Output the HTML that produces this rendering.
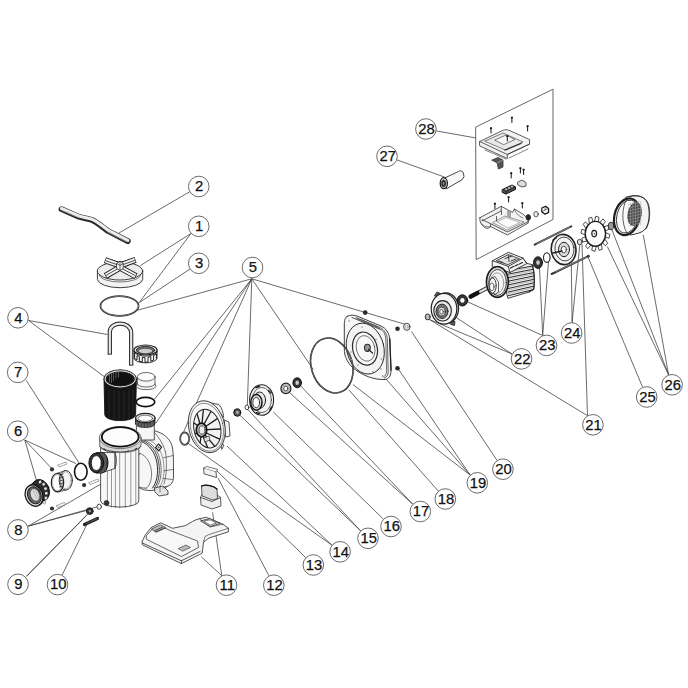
<!DOCTYPE html>
<html><head><meta charset="utf-8"><style>
html,body{margin:0;padding:0;background:#fff;}
svg{display:block;}
</style></head><body>
<svg width="688" height="688" viewBox="0 0 688 688">
<rect width="688" height="688" fill="#fff"/>
<g stroke="#3a3a3a" stroke-width="0.75" fill="none"><line x1="191.0" y1="233.5" x2="140.5" y2="265.5"/><line x1="191.0" y1="233.5" x2="138.5" y2="303.5"/><line x1="189.6" y1="191.8" x2="118.7" y2="233.2"/><line x1="189.9" y1="269.1" x2="139.4" y2="302.5"/><line x1="28.6" y1="320.5" x2="107.5" y2="334.5"/><line x1="28.6" y1="320.5" x2="104" y2="376.5"/><line x1="251.8" y1="278.8" x2="137.6" y2="310.2"/><line x1="251.8" y1="278.8" x2="154.6" y2="399"/><line x1="251.8" y1="278.8" x2="156" y2="423"/><line x1="251.8" y1="278.8" x2="183.2" y2="432.8"/><line x1="251.8" y1="278.8" x2="247.3" y2="405.5"/><line x1="251.8" y1="278.8" x2="313.2" y2="369.4"/><line x1="251.8" y1="278.8" x2="405.8" y2="324.5"/><line x1="24.8" y1="440.0" x2="36.3" y2="480"/><line x1="24.8" y1="440.0" x2="51.2" y2="468"/><line x1="24.8" y1="440.0" x2="75.9" y2="463.5"/><line x1="26.2" y1="380.3" x2="79" y2="463"/><line x1="28.3" y1="526.1" x2="104.9" y2="481.7"/><line x1="28.3" y1="526.1" x2="87.9" y2="510.1"/><line x1="28.3" y1="526.1" x2="99.2" y2="506.3"/><line x1="26.5" y1="576.3" x2="88.8" y2="512.9"/><line x1="26.5" y1="576.3" x2="86.5" y2="515.5"/><line x1="62.1" y1="575.1" x2="88" y2="522"/><line x1="221.8" y1="575.7" x2="201.3" y2="556.8"/><line x1="221.8" y1="575.7" x2="212.6" y2="512.4"/><line x1="268.9" y1="575.8" x2="218" y2="478"/><line x1="305.7" y1="557.6" x2="216" y2="470"/><line x1="331.9" y1="545.1" x2="187.8" y2="443.1"/><line x1="331.9" y1="545.1" x2="227" y2="446"/><line x1="360.6" y1="530.8" x2="237.8" y2="413.2"/><line x1="360.6" y1="530.8" x2="247" y2="408.7"/><line x1="383.4" y1="519.1" x2="273.2" y2="411.9"/><line x1="412.7" y1="504.1" x2="286.3" y2="389.6"/><line x1="412.7" y1="504.1" x2="298" y2="383.1"/><line x1="438.3" y1="491.1" x2="349" y2="390"/><line x1="470.1" y1="475.0" x2="352.9" y2="384.5"/><line x1="470.1" y1="475.0" x2="385" y2="377.9"/><line x1="470.1" y1="475.0" x2="397.3" y2="367.5"/><line x1="497.0" y1="460.4" x2="411.5" y2="331.6"/><line x1="587.5" y1="415.7" x2="429.6" y2="319.6"/><line x1="587.5" y1="415.7" x2="582" y2="244"/><line x1="512.1" y1="354.0" x2="429.6" y2="319.6"/><line x1="512.1" y1="354.0" x2="456.8" y2="318"/><line x1="542.7" y1="335.5" x2="468" y2="302"/><line x1="542.7" y1="335.5" x2="539.5" y2="268"/><line x1="542.7" y1="335.5" x2="548.5" y2="262"/><line x1="572.1" y1="322.4" x2="571.3" y2="264.2"/><line x1="572.1" y1="322.4" x2="580" y2="243"/><line x1="642.6" y1="387.2" x2="588" y2="257"/><line x1="668.6" y1="374.8" x2="607.3" y2="246.5"/><line x1="668.6" y1="374.8" x2="611.8" y2="229.5"/><line x1="668.6" y1="374.8" x2="643.3" y2="235"/><line x1="397.0" y1="159.9" x2="444.6" y2="177.1"/><line x1="436.3" y1="130.9" x2="476" y2="138"/></g>
<g stroke-linejoin="round" stroke-linecap="round">
<!-- ===== box outline (inset for 28) ===== -->
<path d="M476,127 L553,89.2 L553,219.5 L476.5,259.5 Z" fill="none" stroke="#555" stroke-width="0.9"/>

<!-- part 2 handle -->
<path d="M61.5,209.2 L79,216.8 C84,218.3 88,218.6 92,220 C98,222.5 103,227.5 108,231 L127.8,241.2" fill="none" stroke="#2a2a2a" stroke-width="5.8"/>
<path d="M61.5,208.5 L79,216 C84,217.5 88,217.8 92,219.2 C98,221.7 103,226.7 108,230.2 L127.8,240.4" fill="none" stroke="#ececec" stroke-width="3.2"/>
<path d="M62,210.5 L78,217.5 M108,232.5 L126,241.5" fill="none" stroke="#888" stroke-width="0.8" stroke-dasharray="0.7,0.7"/>

<!-- part 1 lid -->
<g stroke="#2a2a2a" stroke-width="0.9">
<path d="M97.4,271 L97.4,279.5 A22.7,8.8 0 0 0 142.7,279.5 L142.7,271" fill="#f3f3f3"/>
<ellipse cx="120" cy="271" rx="22.7" ry="9" fill="#ececec"/>
<path d="M99.5,275 A20.5,7 0 0 0 140.5,275" fill="none" stroke-width="0.6"/>
<g stroke="#1c1c1c" stroke-width="6.2" stroke-linecap="butt">
<path d="M120,265.5 L105,260.2 M120,265.5 L135.5,259.8 M120,267.5 L105.5,276 M120,267.5 L136,276.3"/>
</g>
<g stroke="#f4f4f4" stroke-width="4.4" stroke-linecap="butt">
<path d="M120,265.5 L105.6,260.4 M120,265.5 L134.9,260 M120,267.5 L106,275.7 M120,267.5 L135.4,276"/>
</g>
<path d="M106,260.8 L119,265.3 M134.6,260.4 L121,265.3 M106.4,275.2 L119,268 M135,275.5 L121,268" stroke="#222" stroke-width="0.8"/>
<path d="M116.8,263.5 L120,261.2 L123.2,263.5 L123.2,268.5 L120,270.5 L116.8,268.5 Z" fill="#f4f4f4" stroke-width="0.8"/>
<path d="M120,261.2 L120,270.5 M116.8,263.5 L120,265.5 L123.2,263.5" fill="none" stroke-width="0.7"/>
</g>

<!-- part 3 o-ring -->
<ellipse cx="119.5" cy="306" rx="19" ry="9.8" fill="none" stroke="#222" stroke-width="1.7"/>
<ellipse cx="119.5" cy="306" rx="19" ry="9.8" fill="none" stroke="#bbb" stroke-width="0.5"/>

<!-- part 4 basket handle (U) -->
<path d="M109.8,354 L109.8,332 C109.8,321 131,320.5 131.2,333 L131.2,365" fill="none" stroke="#222" stroke-width="4.2" stroke-linecap="butt"/>
<path d="M109.8,354 L109.8,332 C109.8,321 131,320.5 131.2,333 L131.2,365" fill="none" stroke="#e8e8e8" stroke-width="2.2" stroke-linecap="butt"/>
<path d="M108,354.2 h3.6 M129.4,365.2 h3.6" stroke="#222" stroke-width="0.9"/>

<!-- nut above adapter -->
<g stroke="#1e1e1e" stroke-width="0.9">
<path d="M134,350 L134,358.5 A11.6,5 0 0 0 157,358.5 L157,350" fill="#fafafa"/>
<path d="M134.6,353.5 L134.6,358.5 L137,360 L137,355.5 L139.3,356.5 L139.3,361.3 L142.3,362 L142.3,357.3 L145,357.6 L145,362.3 L148,362 L148,357.3 L150.8,356.6 L150.8,361.2 L153.6,360 L153.6,355.5 L156.4,354 L156.4,358.5" fill="none" stroke-width="1"/>
<path d="M134,352.5 C140,357.5 151,357.5 157,352.5" fill="none" stroke-width="0.8"/>
<ellipse cx="145.5" cy="350" rx="11.6" ry="5" fill="#f2f2f2" stroke-width="1.1"/>
<ellipse cx="145.5" cy="350.2" rx="9.2" ry="3.8" fill="#777" stroke-width="0.9"/>
<ellipse cx="145.5" cy="351" rx="7.4" ry="2.7" fill="#ccc" stroke-width="0.6"/>
</g>
<!-- basket -->
<g stroke="#111" stroke-width="0.9">
<path d="M104,379 L104.8,414.5 C105.2,418.5 112,420.6 120,420.6 C128,420.6 135.2,418.5 135.6,414.5 L136.4,379 Z" fill="#141414"/>
<path d="M109,390 v28 M114,391 v29 M119,391.5 v29 M124,391.5 v29 M129,391 v28.5 M133,390 v27" stroke="#2e2e2e" stroke-width="0.8"/>
<ellipse cx="120.2" cy="378.8" rx="16.3" ry="9" fill="#0e0e0e" stroke="#222" stroke-width="1"/>
<ellipse cx="120.2" cy="378.9" rx="15.1" ry="8" fill="none" stroke="#e2e2e2" stroke-width="1.1"/>
<ellipse cx="120.2" cy="379" rx="13.9" ry="7" fill="#101010" stroke="#333" stroke-width="0.6"/>
<path d="M109.5,374 v8 M111.5,373 v9.5 M113.5,372.5 v8 M116,372 v6 M118.5,372 v5" stroke="#888" stroke-width="0.6"/>
</g>
<!-- adapter cylinder -->
<g stroke="#444" stroke-width="0.8">
<path d="M137.5,377 L137.5,384 L136.5,386.5 A10,4 0 0 0 156,386.5 L155,384 L155,377" fill="#f6f6f6"/>
<ellipse cx="146.2" cy="376.8" rx="8.9" ry="4.3" fill="#fcfcfc"/>
<path d="M137.5,384 A8.7,3 0 0 0 155,384" fill="none"/>
</g>

<!-- o-ring under adapter -->
<ellipse cx="145.5" cy="402" rx="9.3" ry="4.6" fill="none" stroke="#111" stroke-width="1.6"/>

<!-- ===== pump body ===== -->
<g stroke="#2a2a2a" stroke-width="0.8">
<!-- volute -->
<path d="M150,430 C160,431 168,436 171.5,444 C173.5,450 173.5,460 173.5,470 L173.5,477 C173.5,482 171,485 168,486 L152,490.5 C144,491 137,488 135,483 L134.5,465 C135,455 137,446 141,441 Z" fill="#f6f6f6"/>
<path d="M141,441.5 C149,444 155,452 157,463 C158.5,473 157,482 152.5,488" fill="none" stroke="#1a1a1a" stroke-width="0.9"/>
<path d="M142.6,440.8 C151,443.5 157,452 158.8,463 C160.2,473 158.8,482 154.5,487.8" fill="none" stroke="#1a1a1a" stroke-width="0.8"/>
<path d="M144.3,440 C153,443 159,452 160.6,463 C162,473 160.6,482 156.5,487.5" fill="none" stroke="#333" stroke-width="0.7"/>
<path d="M147,439 C156,442 162,451 163.5,462 C165,473 163.5,482 159.5,487" fill="none" stroke="#555" stroke-width="0.6"/>
<path d="M139.8,453.4 C136.5,458 134.8,463 134.6,468.6 L134.9,483.9 C137,487 141,488.2 146.4,488.2" fill="none" stroke-width="0.7"/>
<path d="M139.8,453.4 C146,455 151,463 151.5,472 C152,480 149.5,486 146.4,488.2" fill="none" stroke-width="0.6"/>
<path d="M153.4,431.5 C158,436 163,443 165.5,452 M163.5,457.7 L173.3,455.5 M163.8,470.8 L173.4,469.5 M163,478.4 L172.5,479.5 M165.5,452 C167,462 167,474 164,484" fill="none" stroke-width="0.6"/>
<path d="M155.6,447.5 l2.8,-3.5 l3.2,3.2 l-2.8,3.6 z" fill="#fff" stroke="#1a1a1a" stroke-width="1.1"/>
<path d="M157.3,447.4 l1.2,-1.5 l1.4,1.4 l-1.2,1.5 z" fill="#666" stroke="none"/>
<!-- feet -->
<path d="M155,488 L163,486 L168,491 L168,494.5 L159,496 L155,492 Z" fill="#e4e4e4"/>
<path d="M160,486.5 L160,492 M163,488 L167,487" fill="none" stroke-width="0.6"/>
<!-- neck pipe -->
<path d="M136.4,422 L136.4,440 L154.3,440 L154.3,422" fill="#f7f7f7"/>
<!-- main cylinder -->
<path d="M100.6,446 L100.6,501 A19,6 0 0 0 138.8,501 L138.8,446 Z" fill="#f8f8f8"/>
<path d="M107.4,451 v55 M111.5,452 v55 M115.4,452.5 v55 M119.7,453 v55 M125.3,452.5 v55 M130.8,452 v54 M135.8,451 v53" fill="none" stroke-width="0.55" stroke="#444"/>
<!-- collar -->
<path d="M99.3,438 L99.8,446.5 A20.6,6.8 0 0 0 140.8,446.5 L141.3,438" fill="#d6d6d6" stroke="#555"/>
<path d="M100,446.5 A20.6,6.5 0 0 0 140.6,446.5" fill="none" stroke="#444" stroke-width="0.8"/>
<path d="M104,449 l1.5,1 M112,451.5 l1.5,0.5 M127,451.5 l1.5,-0.5 M135,449.5 l1.5,-1" stroke="#333" stroke-width="1.2"/>
<ellipse cx="120.2" cy="437.6" rx="20.8" ry="11" fill="#dedede" stroke="#666" stroke-width="0.9"/>
<ellipse cx="120.25" cy="436.9" rx="18.4" ry="9.8" fill="#fcfcfc" stroke="#111" stroke-width="1.8"/>
<!-- inlet pipe -->
<path d="M100,452.6 L114.8,452.6 L114.8,468.5 L101,473 Z" fill="#f7f7f7"/>
<path d="M114.8,452.6 C117,456 117,465 114.8,468.5" fill="none"/>
<path d="M96.5,452.8 L102,452.6 A6,10.2 0 0 1 102,473 L96.5,473 Z" fill="#444" stroke="#111" stroke-width="1"/>
<path d="M99,453.5 v19 M101,453 v20 M103,453.5 v19 M105,455 v15" stroke="#999" stroke-width="0.5"/>
<ellipse cx="96.3" cy="462.9" rx="7.4" ry="9.9" fill="#333" stroke="#111" stroke-width="1"/>
<ellipse cx="96.3" cy="463.1" rx="5" ry="7.5" fill="#fff" stroke="#111" stroke-width="0.8"/>
<!-- drain plug -->
<circle cx="106.5" cy="503" r="2.4" fill="#333"/>
</g>

<!-- threaded ring above neck -->
<g stroke="#222" stroke-width="0.9">
<path d="M135.5,418 L135.5,424 A10,4.5 0 0 0 155,424 L155,418" fill="#444"/>
<path d="M137,422 v4 M140,423 v4 M143,424 v4 M146,424 v4 M149,424 v4 M152,422 v4" stroke="#aaa" stroke-width="0.6"/>
<ellipse cx="145.3" cy="418" rx="9.8" ry="4.6" fill="#e5e5e5" stroke-width="1.3"/>
<ellipse cx="145.3" cy="418.3" rx="7.3" ry="3.1" fill="#fff" stroke-width="0.6"/>
</g>

<!-- ===== left small parts ===== -->
<g stroke="#222" stroke-width="0.9">
<!-- union nut -->
<ellipse cx="40.60" cy="490.20" rx="8.6" ry="11" transform="rotate(-22 40.60 490.20)" fill="#2a2a2a" stroke="none"/><ellipse cx="39.50" cy="491.10" rx="8.6" ry="11" transform="rotate(-22 39.50 491.10)" fill="#2a2a2a" stroke="none"/><ellipse cx="38.40" cy="492.00" rx="8.6" ry="11" transform="rotate(-22 38.40 492.00)" fill="#2a2a2a" stroke="none"/><ellipse cx="37.30" cy="492.90" rx="8.6" ry="11" transform="rotate(-22 37.30 492.90)" fill="#2a2a2a" stroke="none"/><ellipse cx="36.20" cy="493.80" rx="8.6" ry="11" transform="rotate(-22 36.20 493.80)" fill="#2a2a2a" stroke="none"/><ellipse cx="35.10" cy="494.70" rx="8.6" ry="11" transform="rotate(-22 35.10 494.70)" fill="#2a2a2a" stroke="none"/><ellipse cx="34.00" cy="495.60" rx="8.6" ry="11" transform="rotate(-22 34.00 495.60)" fill="#2a2a2a" stroke="none"/>
<ellipse cx="40.6" cy="490.2" rx="8.6" ry="11" transform="rotate(-22 40.6 490.2)" fill="#2a2a2a" stroke="#111" stroke-width="0.8"/>
<path d="M38.5,481.5 l2.2,-1.6 l1,2.6 l-2.2,1.4 Z M42,483.5 l2.5,-1 l0.8,2.6 l-2.5,1 Z M44,487.5 l2.7,-0.6 l0.5,2.8 l-2.7,0.5 Z M45,492 l2.7,-0.2 l0.1,2.8 l-2.7,0.2 Z M44.8,496.5 l2.6,0.3 l-0.4,2.8 l-2.6,-0.4 Z M43.5,500.8 l2.4,0.8 l-0.8,2.5 l-2.3,-0.8 Z" fill="#f2f2f2" stroke="#333" stroke-width="0.4"/>
<ellipse cx="34" cy="495.6" rx="8.6" ry="11" transform="rotate(-22 34 495.6)" fill="#ddd" stroke="#111" stroke-width="1.2"/>
<ellipse cx="34.4" cy="495.3" rx="6.6" ry="8.8" transform="rotate(-22 34.4 495.3)" fill="#666" stroke="#111" stroke-width="0.9"/>
<ellipse cx="35" cy="494.9" rx="4.6" ry="6.6" transform="rotate(-22 35 494.9)" fill="#ddd" stroke="#333" stroke-width="0.7"/>
<path d="M33,490 L37.5,500 M35,489 L39,498" stroke="#999" stroke-width="0.5"/>
<!-- tail piece -->
<path d="M57.3,473.3 L65.6,470.5 M57.7,491.9 L66,490.1" fill="none" stroke="#333" stroke-width="0.8"/>
<ellipse cx="65.8" cy="480.3" rx="6.6" ry="9.8" fill="#f4f4f4" stroke="#333" stroke-width="1"/>
<ellipse cx="65.8" cy="480.3" rx="5.4" ry="8.6" fill="none" stroke="#777" stroke-width="0.6"/>
<path d="M59.5,475 L63,474 M59.5,478 L63.5,477 M59.5,481 L63.8,480 M59.5,484 L63.5,483 M59.5,487 L63,486" stroke="#333" stroke-width="0.9"/>
<ellipse cx="57.5" cy="482.6" rx="6.2" ry="9.3" fill="none" stroke="#222" stroke-width="1.2"/>
<ellipse cx="57.5" cy="482.6" rx="5" ry="8.1" fill="none" stroke="#888" stroke-width="0.6"/>
<!-- o-ring 7 -->
<ellipse cx="80.8" cy="471.8" rx="6.3" ry="8.5" fill="none" stroke="#111" stroke-width="1.6"/>
</g>
<g fill="#333" stroke="none">
<circle cx="52" cy="469.4" r="2.1"/>
<circle cx="84.1" cy="485.1" r="2.1"/>
<circle cx="52" cy="508.5" r="2.1"/>
</g>
<g fill="#fff" stroke="#555" stroke-width="0.6" stroke-dasharray="1.2,1">
<path d="M58,465 l8,-3 l1,2 l-8,3 z"/>
<path d="M89,482.5 l9,-3.5 l1,2 l-9,3.5 z"/>
<path d="M56.5,505.5 l8,-3 l1,2 l-8,3 z"/>
</g>
<!-- parts 8,9,10 -->
<circle cx="89.8" cy="511.1" r="3.4" fill="#333" stroke="#111" stroke-width="0.8"/>
<circle cx="89.8" cy="511.1" r="1.2" fill="#999"/>
<ellipse cx="99.2" cy="506.7" rx="2.2" ry="2.6" fill="#fff" stroke="#333" stroke-width="0.9"/>
<path d="M84.5,524.5 L97.5,518.5" stroke="#222" stroke-width="3.2" stroke-linecap="round"/>
<path d="M86.5,523.5 L97,518.6" stroke="#777" stroke-width="0.7" stroke-dasharray="0.8,0.8"/>

<!-- ===== base (11) ===== -->
<g stroke="#2a2a2a" stroke-width="0.8">
<path d="M142.1,541.5 L145.5,534.6 L151,527.7 L160.7,522.8 L172.5,528.3 L185.6,525.6 C190,523 195,519.5 199.4,518.7 L206.3,517.3 L222.9,524.2 L228.4,528.3 L228.4,531.8 L209,538 L203.5,542.2 L202.2,553.2 L199.4,554.6 L181.4,563.6 L142.8,545 Z" fill="#f4f4f4"/>
<path d="M142.4,543 L181.4,560.8 L200,551.5 M181.4,560.8 L181.4,563.6" fill="none"/>
<path d="M146.5,535.5 L152,529.5 L161,526 L170,530.5 L197.5,541 L198.5,547.5 L181.5,556.5 L146.8,539.5 Z" fill="#f8f8f8" stroke-width="0.7"/>
<path d="M203.5,542.2 L205,536.5 L209,534.5 L228.4,528.3 M199.4,518.7 L210,527 L222.9,524.2" fill="none" stroke-width="0.6"/>
<path d="M201,520.8 L210,518.6 L220,523.5 L210.5,526.5 Z" fill="#e8e8e8" stroke-width="0.8"/>
<path d="M204,521.2 L210,519.8 L216.5,523 L210.5,525 Z" fill="#fff" stroke-width="0.6"/>
<path d="M151.5,529 L160.5,524.8 L166,527.8 L157,532 Z" fill="#bbb" stroke-width="0.6"/>
<path d="M154,531 L163,527 M155.5,532 L164.5,528" stroke="#222" stroke-width="0.7"/>
<path d="M178.5,548.5 L186,545 L190.5,547.5 L183,551 Z" fill="#bbb" stroke-width="0.6"/>
</g>
<!-- cup (11) -->
<g stroke="#333" stroke-width="0.8">
<path d="M200.5,497.5 L201,505 L212,509 L221,506 L220.5,497.5 L216,494 L204,492 Z" fill="#eee"/>
<path d="M201.5,486 L202,496 L213,500 L217.5,498.5 L217,489 C214,486 206,484 201.5,486 Z" fill="#ddd"/>
<path d="M202,486 C206,484 214,486 217,489" fill="none" stroke="#111" stroke-width="1.3"/>
<path d="M200.5,497.5 L212,501.5 L220.5,497.5" fill="none"/>
</g>
<!-- small block -->
<path d="M204,468 L216,471.5 L216.5,477.5 L204.5,474 Z" fill="#f2f2f2" stroke="#333" stroke-width="0.8"/>
<path d="M204,468 L206.5,466.5 L218,469.5 L216,471.5" fill="#fff" stroke="#333" stroke-width="0.7"/>

<!-- ===== diffuser ===== -->
<g stroke="#2a2a2a" stroke-width="0.85">
<path d="M211,403 L219,404.5 C222,408 223.5,413 223.5,417 Z M224.5,420 L229,422 L230,436 L226,437 Z M221,444 L224,445 L222,449 Z" fill="#f4f4f4" stroke-width="0.8"/>
<ellipse cx="206.8" cy="426.7" rx="18" ry="26.3" transform="rotate(-13 206.8 426.7)" fill="#f8f8f8"/>
<ellipse cx="206.9" cy="427.2" rx="16.2" ry="24.3" transform="rotate(-13 206.9 427.2)" fill="none" stroke-width="0.5"/>
<ellipse cx="207.3" cy="428.6" rx="13.3" ry="19.6" transform="rotate(-13 207.3 428.6)" fill="#f3f3f3" stroke-width="1"/>
<path d="M207.0,429.7 L220.5,429.0 M206.4,433.0 L219.6,439.2 M205.0,435.0 L214.7,446.1 M203.3,436.1 L207.5,447.4 M200.9,436.5 L200.2,442.7 M196.7,433.2 L195.2,433.6 M197.5,425.5 L194.0,422.9 M200.0,423.7 L197.1,414.0 M202.0,423.5 L203.4,409.7 M204.0,424.2 L210.9,411.5 M206.0,426.2 L217.3,418.6" stroke="#1e1e1e" stroke-width="1.3"/>
<ellipse cx="201.5" cy="430" rx="5.2" ry="6.8" fill="#ccc" stroke="#151515" stroke-width="1.8"/>
<ellipse cx="202" cy="430" rx="3" ry="4.2" fill="#eee" stroke-width="0.8"/>
<path d="M204,438 L209,436 L210,440 L205,442 Z" fill="#ddd" stroke-width="0.7"/>
</g>
<!-- o-ring 12 -->
<ellipse cx="184.7" cy="438.7" rx="4.5" ry="6.2" fill="#fff" stroke="#333" stroke-width="1.8"/>
<ellipse cx="184.7" cy="438.7" rx="4.5" ry="6.2" fill="none" stroke="#bbb" stroke-width="0.4"/>

<!-- small nut / o-ring -->
<ellipse cx="237.2" cy="412.5" rx="3.5" ry="3.7" fill="#555" stroke="#111" stroke-width="1"/>
<ellipse cx="237.4" cy="412.3" rx="1.4" ry="1.6" fill="#aaa"/>
<ellipse cx="247" cy="407.4" rx="1.9" ry="2.4" fill="#fff" stroke="#222" stroke-width="0.8"/>

<!-- seal flange (16) -->
<g stroke="#222" stroke-width="0.9">
<ellipse cx="261.6" cy="400" rx="12" ry="15.3" fill="#f5f5f5" stroke-width="1.1"/>
<ellipse cx="261.8" cy="400" rx="9.6" ry="12.6" fill="none" stroke-width="0.7"/>
<path d="M256,387.5 l3.5,-1.2 M268.5,390.5 l2.5,2.5 M271.5,407 l-1.5,3 M259.5,413.5 l-3,-0.8" stroke-width="1.6"/>
<ellipse cx="259.6" cy="400.2" rx="6" ry="8.2" fill="#e8e8e8" stroke-width="1"/>
<path d="M253,397 L258,394 M253.5,408 L259,407.8" fill="none" stroke-width="0.8"/>
<ellipse cx="256.4" cy="402.4" rx="5.6" ry="7.8" fill="#ddd" stroke="#151515" stroke-width="1.5"/>
<ellipse cx="256.2" cy="402.6" rx="3.4" ry="5.2" fill="#fff" stroke-width="0.9"/>
</g>
<!-- bearings 17 -->
<ellipse cx="285.9" cy="388.4" rx="5" ry="5.3" fill="#bbb" stroke="#222" stroke-width="1.2"/>
<ellipse cx="285.8" cy="388.5" rx="2" ry="2.4" fill="#fff" stroke="#333" stroke-width="0.8"/>
<ellipse cx="297.2" cy="382.8" rx="4.3" ry="5" fill="#333" stroke="#111" stroke-width="1"/>
<ellipse cx="297.2" cy="382.8" rx="1.8" ry="2.2" fill="#ccc"/>

<!-- seal plate 19 -->
<g stroke="#2a2a2a" stroke-width="0.9">
<path d="M347,316.5 C350,314.5 354,315 357,316 L381,326 C386,328 389,333 389.8,339 L391,370 C391,376 389,379 385,379.5 C375,380 362,376 352,367 C347,362 344.3,356 344.3,349 L344.3,325 C344.3,320 345,318 347,316.5 Z" fill="#f6f6f6"/>
<path d="M356,317.5 L380,327.5 C384.5,329.5 386.8,334 387.3,339 L388.2,371 C388.2,375 387,377 384.5,378" fill="none" stroke-width="0.7"/>
<path d="M357,318.6 L379.5,328.5 C383.5,330.5 385.5,334 385.8,339 L386.6,370.5 C386.6,374 385.5,376 383.5,377" fill="none" stroke="#333" stroke-width="0.7"/>
<path d="M352,317.5 L380.5,329.5 M361,319.5 L378,327" fill="none" stroke="#555" stroke-width="1"/>
<path d="M389.8,339 L391,370" fill="none" stroke="#222" stroke-width="1.3"/>
<ellipse cx="365.3" cy="348.6" rx="18.6" ry="25.8" transform="rotate(-14 365.3 348.6)" fill="#f3f3f3" stroke-width="0.9"/>
<ellipse cx="365" cy="348.6" rx="12.2" ry="16.8" transform="rotate(-14 365 348.6)" fill="#f8f8f8" stroke-width="1.2"/>
<ellipse cx="365.6" cy="348.4" rx="9.2" ry="13" transform="rotate(-14 365.6 348.4)" fill="none" stroke-width="0.6"/>
<ellipse cx="367.4" cy="347.8" rx="2.9" ry="3.6" fill="#999" stroke-width="1.1"/>
<path d="M368.5,349.5 L372.5,353" stroke-width="1.3"/>
<g fill="#888" stroke="none">
<circle cx="349.2" cy="321" r="0.8"/><circle cx="349.5" cy="331" r="0.8"/><circle cx="362" cy="327" r="0.7"/><circle cx="376" cy="339.5" r="0.8"/><circle cx="381.5" cy="359" r="0.8"/><circle cx="381" cy="369" r="0.8"/><circle cx="373" cy="371.5" r="0.7"/><circle cx="358" cy="365" r="0.7"/><circle cx="351" cy="352" r="0.7"/><circle cx="382.5" cy="376" r="0.8"/>
</g>
</g>
<!-- big O-ring 18 -->
<ellipse cx="331.8" cy="365.5" rx="20.5" ry="28" transform="rotate(-17 331.8 365.5)" fill="none" stroke="#111" stroke-width="1.6"/>
<ellipse cx="331.8" cy="365.5" rx="20.5" ry="28" transform="rotate(-17 331.8 365.5)" fill="none" stroke="#ccc" stroke-width="0.4"/>

<g fill="#2a2a2a"><circle cx="365.2" cy="312.6" r="2.3"/><circle cx="397.5" cy="328.8" r="2.3"/><circle cx="397.5" cy="368.2" r="2.3"/></g>
<ellipse cx="406.8" cy="326.8" rx="3.2" ry="3.6" fill="#eee" stroke="#333" stroke-width="0.9"/>
<ellipse cx="406.8" cy="326.8" rx="1.3" ry="1.6" fill="#fff" stroke="#666" stroke-width="0.5"/>

<!-- ===== flange 22 ===== -->
<g stroke="#222" stroke-width="0.9">
<path d="M434.5,295.5 l2.5,-3.5 l3.5,1.5 l-1.5,3.5 Z M451.5,301 l3.5,-2 l2,3.5 l-3,2 Z M451.5,320.5 l3.5,1 l-0.5,4 l-3.5,-1 Z" fill="#555" stroke-width="0.8"/>
<ellipse cx="446" cy="308.2" rx="12.6" ry="15.4" fill="#ddd" stroke-width="1.2"/>
<ellipse cx="444" cy="308.8" rx="12.8" ry="15.4" fill="#f7f7f7" stroke-width="1.2"/>
<ellipse cx="442.6" cy="310.8" rx="8.8" ry="10.2" fill="#e8e8e8" stroke-width="1.1"/>
<ellipse cx="442" cy="311.3" rx="6" ry="7.2" fill="#777" stroke-width="0.9"/>
<ellipse cx="441.7" cy="311.6" rx="3.6" ry="4.5" fill="#ddd" stroke-width="0.8"/>
<ellipse cx="441.5" cy="311.8" rx="1.8" ry="2.3" fill="#fff" stroke-width="0.7"/>
</g>
<ellipse cx="427.7" cy="316.9" rx="2.5" ry="3" fill="#bbb" stroke="#333" stroke-width="1"/>
<!-- bearing -->
<ellipse cx="462.4" cy="300.4" rx="5.3" ry="5.6" fill="#333" stroke="#111" stroke-width="1"/>
<ellipse cx="462.4" cy="300.4" rx="2.2" ry="2.4" fill="#fff"/>

<!-- ===== motor ===== -->
<g stroke="#2a2a2a" stroke-width="0.9">
<!-- shaft -->
<path d="M471,296.3 L490,286.5" stroke="#333" stroke-width="4.2"/>
<path d="M477,293.4 L490,286.5" stroke="#e6e6e6" stroke-width="2.2"/>
<!-- body -->
<path d="M500,267 L523,258.5 L527,263.5 L532,264.5 C534.5,270 534.8,283 533.8,289 L529,292 L508.3,298.2 Z" fill="#f2f2f2"/>
<path d="M506.5,270.8 L533.6,265.8 M506.8,274.4 L533.6,269.2 M507.0,277.9 L533.6,272.6 M507.2,281.4 L533.6,276.0 M507.5,285.0 L533.6,279.4 M507.8,288.6 L533.6,282.8 M508.0,292.1 L533.6,286.2 M508.2,295.7 L533.6,289.6 " fill="none" stroke="#1e1e1e" stroke-width="0.95"/>
<path d="M507.0,272.3 L533.6,267.3 M507.2,275.9 L533.6,270.7 M507.5,279.4 L533.6,274.1 M507.8,282.9 L533.6,277.5 M508.0,286.5 L533.6,280.9 M508.2,290.1 L533.6,284.3 M508.5,293.6 L533.6,287.7 " fill="none" stroke="#999" stroke-width="0.6"/>
<path d="M532,264.5 C534.5,270 534.8,283 533.8,289 L529,292" fill="none" stroke-width="1.1"/>
<!-- terminal housing -->
<path d="M492.6,260.7 L508.3,252.4 L523.1,258.1 L526.6,263.7 L510,272.5 L492.6,266.8 Z" fill="#f4f4f4"/>
<path d="M492.6,260.7 L508.3,266.4 L523.1,258.1 M508.3,266.4 L510,272.5" fill="none"/>
<path d="M496.5,260.6 L508.2,254.6 L519.5,258.8 L508.3,264.5 Z" fill="#e0e0e0" stroke-width="0.8"/>
<path d="M508.5,255.5 l0.5,6 M505,258.5 l7,-2.5 M511,261 l5,-2 M499,261 l4,1.5" stroke-width="0.9"/>
<path d="M510.5,268 l3,-1.5 M515,266 l3,-1.5 M519.5,264 l3,-1.5" stroke-width="1.3"/>
<!-- front end -->
<ellipse cx="497.4" cy="282" rx="10.9" ry="15.3" fill="#dcdcdc" stroke="#1a1a1a" stroke-width="1.7" stroke-dasharray="1.1,0.8"/>
<ellipse cx="497.6" cy="282.4" rx="8.8" ry="13" fill="#f3f3f3" stroke-width="0.9"/>
<ellipse cx="497" cy="283" rx="6.8" ry="10.2" fill="none" stroke="#666" stroke-width="0.6"/>
<path d="M491.5,278 L495,276.5 L498.5,282 L498.5,292 L495.5,294 L491.5,293 Z" fill="#f6f6f6" stroke-width="0.7"/>
<ellipse cx="492.6" cy="285.6" rx="3.6" ry="7.6" fill="#f8f8f8" stroke-width="0.9"/>
<ellipse cx="491.8" cy="286.8" rx="2.2" ry="3.8" fill="#fff" stroke-width="0.8"/>
<path d="M470.5,296.6 L477.5,293" stroke="#111" stroke-width="4.2"/>
</g>
<!-- bearing 23 and o-ring -->
<ellipse cx="538" cy="262.6" rx="4.5" ry="5.8" fill="#333" stroke="#111" stroke-width="1"/>
<ellipse cx="538" cy="262.6" rx="1.8" ry="2.4" fill="#ccc"/>
<ellipse cx="546.8" cy="257.6" rx="3.3" ry="4.8" fill="#fff" stroke="#222" stroke-width="1.1"/>

<!-- rear bracket 24 -->
<g stroke="#222" stroke-width="1.2">
<path d="M534.7,244.7 L571.3,226.4" stroke="#333" stroke-width="2"/>
<path d="M537,243.6 L570,227" stroke="#bbb" stroke-width="0.6" stroke-dasharray="0.8,0.8"/>
<ellipse cx="563.6" cy="249.5" rx="12.3" ry="15.2" transform="rotate(-8 563.6 249.5)" fill="#f4f4f4" stroke-width="1.6"/>
<ellipse cx="564.5" cy="249" rx="9.5" ry="12" transform="rotate(-8 564.5 249)" fill="none" stroke-width="0.8"/>
<ellipse cx="564" cy="249.5" rx="5.5" ry="7.2" fill="#ddd" stroke-width="1"/>
<ellipse cx="563.8" cy="249.6" rx="2.6" ry="3.4" fill="#fff" stroke-width="0.8"/>
<path d="M553,253 L562,251 M553,240 l3,-2" stroke-width="1.5"/>
<path d="M551.7,274 L588.4,256.2" stroke="#333" stroke-width="2"/>
<path d="M556,271.6 L587,256.8" stroke="#bbb" stroke-width="0.6" stroke-dasharray="0.8,0.8"/>
</g>
<circle cx="588.3" cy="256.2" r="1.4" fill="#333"/>
<ellipse cx="579.7" cy="242" rx="2.4" ry="2.7" fill="#ddd" stroke="#333" stroke-width="0.9"/>

<!-- fan 25 -->
<g stroke="#1e1e1e" stroke-width="0.9" fill="#fff">
<path d="M605.2,232.4 L609.9,234.5 L609.0,238.2 L604.9,237.2 Z M604.5,238.6 L607.7,243.2 L605.4,245.8 L602.2,242.5 Z M601.3,243.5 L602.2,249.4 L599.1,250.3 L597.7,245.5 Z M596.5,245.8 L594.9,251.4 L591.8,250.3 L592.6,245.3 Z M591.4,244.8 L587.7,248.7 L585.5,246.0 L588.2,242.1 Z M587.4,240.9 L582.6,242.0 L581.8,238.3 L585.8,236.6 Z M585.6,235.2 L580.9,233.1 L581.8,229.4 L585.9,230.4 Z M586.3,229.0 L583.1,224.4 L585.4,221.8 L588.6,225.1 Z M589.5,224.1 L588.6,218.2 L591.7,217.3 L593.1,222.1 Z M594.3,221.8 L595.9,216.2 L599.0,217.3 L598.2,222.3 Z M599.4,222.8 L603.1,218.9 L605.3,221.6 L602.6,225.5 Z M603.4,226.7 L608.2,225.6 L609.0,229.3 L605.0,231.0 Z" stroke-width="0.8"/>
<ellipse cx="595.4" cy="233.8" rx="10.2" ry="12.4" stroke-width="1.4"/>
<ellipse cx="594.2" cy="233.6" rx="2.4" ry="3.2" stroke-width="1.2"/>
<circle cx="594.4" cy="233.8" r="0.8" fill="#333" stroke="none"/>
</g>
<ellipse cx="611" cy="226" rx="2.7" ry="3.8" fill="#999" stroke="#222" stroke-width="0.9"/>

<!-- fan cover 26 -->
<g stroke="#1e1e1e" stroke-width="0.9">
<path d="M626,197.2 C634,194.5 643,195 646.5,201 C650,207 650.5,222 645.5,229 C642,233 636,234 630.5,235 Z" fill="#f4f4f4"/>
<path d="M630,196.5 C638,194.5 645,197 648,203 C651,210 650,223 646,229" fill="none" stroke-width="0.7"/>
<ellipse cx="627" cy="216.8" rx="12.6" ry="18.6" transform="rotate(14 627 216.8)" fill="#fafafa" stroke-width="2.2"/>
<ellipse cx="627.6" cy="216.6" rx="10.8" ry="16.8" transform="rotate(14 627.6 216.6)" fill="none" stroke-width="0.8"/>
<ellipse cx="634.6" cy="214" rx="6.6" ry="11.8" transform="rotate(10 634.6 214)" fill="#4a4a4a" stroke="#222" stroke-width="0.6"/>
<path d="M628,205 l12,-3 M628,208 l13,-3 M628,211 l14,-3 M628,214 l14,-3 M628,217 l14,-3 M628,220 l14,-3 M628,223 l13,-3 M629,226 l11,-3 M630.5,203 v23 M633,202 v24 M635.5,201.5 v25 M638,201.5 v25 M640.5,202 v23" stroke="#aaa" stroke-width="0.5"/>
<path d="M626.5,200 C622,206 621,224 627,233" fill="none" stroke-width="0.7"/>
</g>

<!-- ===== terminal box contents ===== -->
<g stroke="#333" stroke-width="0.8">
<!-- lid 28 -->
<path d="M479.8,141.5 L502.7,130.4 C505,129.5 507,129.5 509,130.3 L529.5,139.5 L529.5,144.1 L507.3,154.5 L507.3,158.5 L480,146 Z" fill="#f2f2f2"/>
<path d="M479.8,141.5 L507.3,154.5 L529.5,144.1" fill="none"/>
<path d="M485,141 L503,133 L523,142 L506,150 Z" fill="#e8e8e8" stroke-width="0.6"/>
<path d="M495,140 L506,135 L515,139.5 L504,144.5 Z" fill="#f7f7f7" stroke-width="0.6"/>
<path d="M505,150 L521,143.5" stroke-width="1.3"/>
<path d="M485,150 L506,159 M509,158 L528,149" stroke="#777" stroke-width="0.9" stroke-dasharray="0.6,0.6"/>
</g>
<g stroke="#111" stroke-width="1">
<path d="M491,128.5 v4.5 M511.9,118 v4.5 M527.6,126.5 v4.5 M507.3,136.5 v4.5 M511.2,173.5 v4.5 M520.4,168.5 v4.5 M523.6,170 v4.5 M508.6,197.5 v4.5 M494.9,204 v4.5 M522.3,203.5 v4.5"/>
</g>
<g stroke="#111" stroke-width="1.8" stroke-linecap="butt">
<path d="M490,128.2 h2 M510.9,117.7 h2 M526.6,126.2 h2 M506.3,136.2 h2 M510.2,173.2 h2 M519.4,168.2 h2 M522.6,169.7 h2 M507.6,197.2 h2 M493.9,203.7 h2 M521.3,203.2 h2"/>
</g>
<g stroke="#333" stroke-width="0.8">
<!-- clip -->
<path d="M492,160 L498,157.5 L503,160 L503,167 L498.5,169 L497,163 Z" fill="#555"/>
<path d="M497,163 L503,160" stroke="#ccc" stroke-width="0.6"/>
<!-- small clip -->
<path d="M518,182 L522,180 L526,182.5 L526,186 L522,187 L518,185 Z" fill="#ddd"/>
<!-- terminal block -->
<path d="M502.5,189.5 L512,185 L515.5,187 L515.5,189.5 L506,194 L502.5,192.5 Z" fill="#555" stroke="#111" stroke-width="1"/>
<path d="M502.5,189.5 L506,191.5 L515.5,187 M506,191.5 L506,194" fill="none" stroke="#111" stroke-width="0.7"/>
<circle cx="506" cy="189.3" r="0.9" fill="#ddd" stroke="none"/><circle cx="509" cy="187.9" r="0.9" fill="#ddd" stroke="none"/><circle cx="512" cy="186.5" r="0.9" fill="#ddd" stroke="none"/>
<!-- tray -->
<path d="M479.9,217.7 L501.3,206.3 L512.6,212.4 L514.4,209 L523.1,214.2 L528.3,219 L528.3,223 L507.4,235 L490.5,226.5 C489,229 485,229 482,225 C480,222.5 479.6,220 479.9,217.7 Z" fill="#f3f3f3"/>
<path d="M482,221 L501,211 L501.5,206.5 M490.8,223.8 L507.4,232 L528.3,221.5 M490.5,226.5 L490.8,223.8 L482,219.5" fill="none"/>
<path d="M493,222.5 L505,216 L524,222 L507.5,230 Z" fill="#fbfbfb" stroke-width="0.5"/>
<path d="M497,222 L506,217.5 L520,222.5 L508,228 Z" fill="none" stroke="#777" stroke-width="0.5" stroke-dasharray="0.6,0.6"/>
<path d="M501.5,211 L501.5,214.5 M508,211 L508,216 M510,212 L510,217 M496.5,216.5 L496.5,221" fill="none" stroke-width="0.8"/>
<path d="M514.4,209 C515,212 518,216 523,218" fill="none" stroke-width="0.6"/>
<path d="M482,224 C484,226.5 487,227.5 490.5,226.5" fill="none" stroke-width="0.6"/>
<!-- glands -->
<ellipse cx="528.3" cy="217.4" rx="2.3" ry="2.8" fill="#222"/>
<ellipse cx="536" cy="214.2" rx="2.2" ry="2.8" fill="#eee"/>
<path d="M541.8,208 L545.5,206.3 L548.6,208.6 L548.6,212.4 L545,214.2 L541.8,211.8 Z" fill="#f4f4f4" stroke="#111" stroke-width="1.2"/>
<path d="M545.5,206.3 L545,210 L541.8,211.8 M545,210 L548.6,208.6" fill="none" stroke-width="0.6"/>
</g>

<!-- capacitor 27 -->
<g stroke="#333" stroke-width="0.9">
<path d="M445.3,177.7 L458.4,171.5 A3.4,4.5 0 0 1 462.2,179.6 L446.8,188.6 Z" fill="#f8f8f8"/>
<ellipse cx="443.8" cy="183.2" rx="3.6" ry="5.5" fill="#ccc" stroke="#1a1a1a" stroke-width="1.2"/>
<ellipse cx="443.6" cy="183.4" rx="2.2" ry="3.4" fill="#333" stroke-width="0.5"/>
<ellipse cx="443.6" cy="183.4" rx="0.8" ry="1.3" fill="#999" stroke="none"/>
</g>
</g>

<g stroke="#5a5a5a" stroke-width="0.9" fill="#fff"><circle cx="198.75" cy="226.3" r="10.3"/><circle cx="198.75" cy="186.5" r="10.3"/><circle cx="198.75" cy="263.3" r="10.3"/><circle cx="18" cy="317.8" r="10.3"/><circle cx="252.5" cy="267.5" r="10.3"/><circle cx="17.7" cy="431.2" r="10.3"/><circle cx="17.7" cy="372.4" r="10.3"/><circle cx="17.95" cy="529.9" r="10.3"/><circle cx="18" cy="584.3" r="10.3"/><circle cx="57.5" cy="584.6" r="10.3"/><circle cx="226.5" cy="585.2" r="10.3"/><circle cx="273.8" cy="585.2" r="10.3"/><circle cx="313.3" cy="565" r="10.3"/><circle cx="340.1" cy="551.8" r="10.3"/><circle cx="368" cy="538.3" r="10.3"/><circle cx="391" cy="526.5" r="10.3"/><circle cx="420.3" cy="511.5" r="10.3"/><circle cx="445.3" cy="499" r="10.3"/><circle cx="477.3" cy="482.8" r="10.3"/><circle cx="502.9" cy="469.2" r="10.3"/><circle cx="592.9" cy="424.8" r="10.3"/><circle cx="521.5" cy="358.9" r="10.3"/><circle cx="546.5" cy="345.4" r="10.3"/><circle cx="571.6" cy="333" r="10.3"/><circle cx="646.7" cy="397" r="10.3"/><circle cx="672.1" cy="384.8" r="10.3"/><circle cx="387" cy="156.3" r="10.3"/><circle cx="425.9" cy="129" r="10.3"/></g><g font-family="Liberation Sans, sans-serif" font-size="14.8" text-anchor="middle" fill="#111" stroke="#111" stroke-width="0.25"><text x="199.2" y="231.0">1</text><text x="199.2" y="191.2">2</text><text x="199.2" y="268.0">3</text><text x="18.4" y="322.5">4</text><text x="252.9" y="272.2">5</text><text x="18.1" y="435.9">6</text><text x="18.1" y="377.1">7</text><text x="18.3" y="534.6">8</text><text x="18.4" y="589.0">9</text><text x="58.2" y="589.3">10</text><text x="227.2" y="589.9">11</text><text x="274.5" y="589.9">12</text><text x="314.0" y="569.7">13</text><text x="340.8" y="556.5">14</text><text x="368.7" y="543.0">15</text><text x="391.7" y="531.2">16</text><text x="421.0" y="516.2">17</text><text x="446.0" y="503.7">18</text><text x="478.0" y="487.5">19</text><text x="503.6" y="473.9">20</text><text x="593.6" y="429.5">21</text><text x="522.2" y="363.6">22</text><text x="547.2" y="350.1">23</text><text x="572.3" y="337.7">24</text><text x="647.4" y="401.7">25</text><text x="672.8" y="389.5">26</text><text x="387.7" y="161.0">27</text><text x="426.6" y="133.7">28</text></g>
</svg>
</body></html>
